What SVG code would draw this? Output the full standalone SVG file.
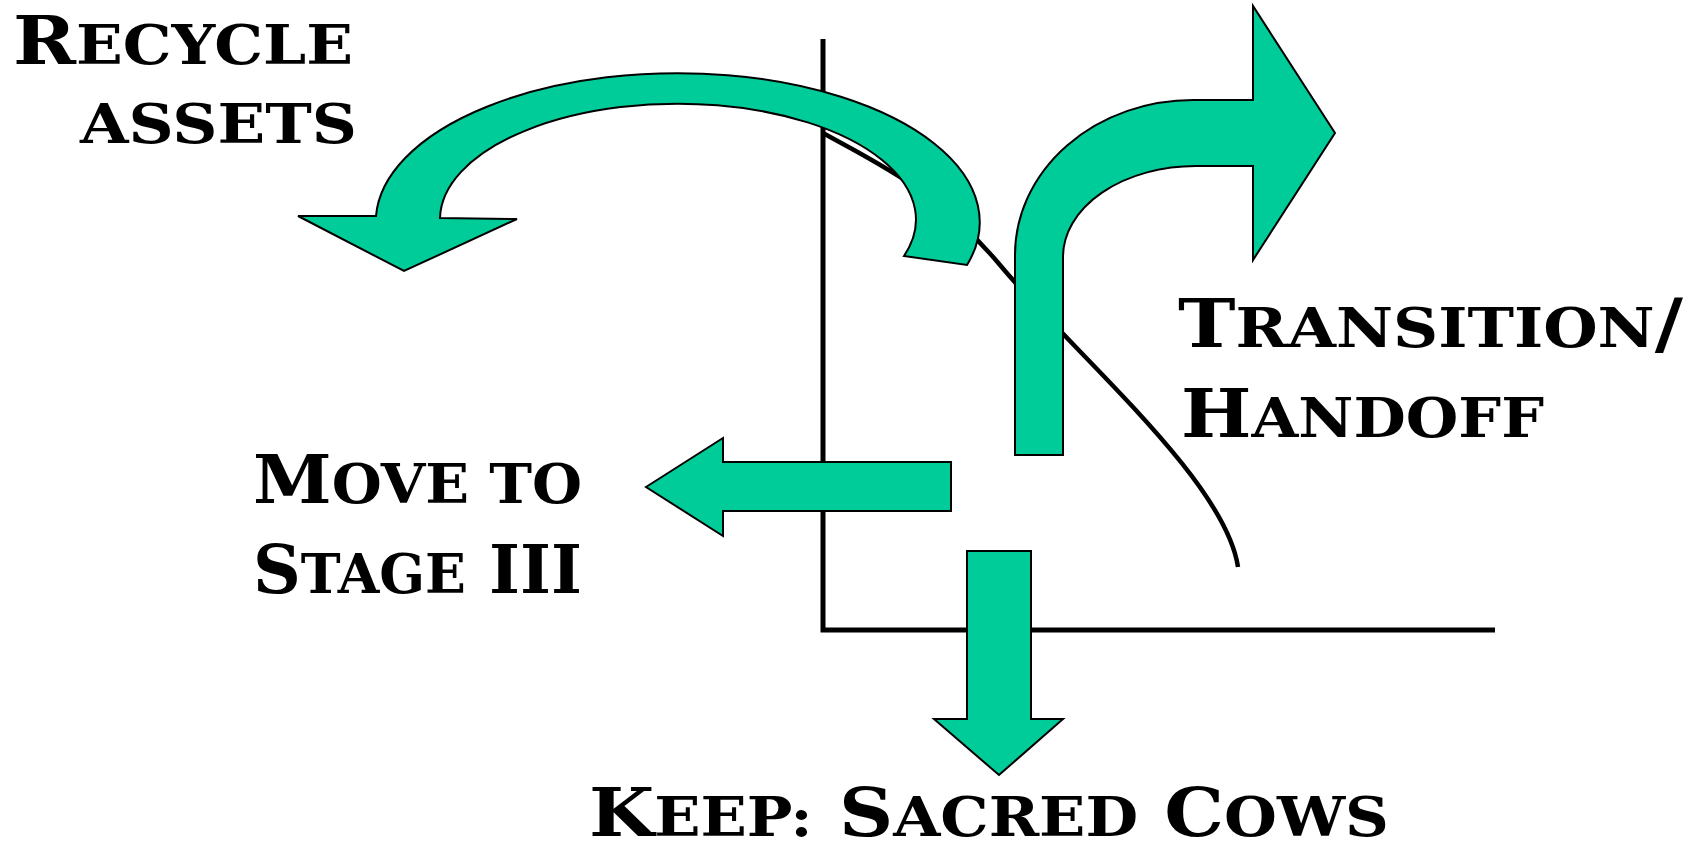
<svg xmlns="http://www.w3.org/2000/svg" width="1697" height="843" viewBox="0 0 1697 843">
<style>
.arrow{fill:#00CC99;stroke:#000;stroke-width:2;stroke-linejoin:miter}
.axis{fill:none;stroke:#000;stroke-width:5}
.curve{fill:none;stroke:#000;stroke-width:4.5}
.lbl{font-family:"DejaVu Serif","Liberation Serif",serif;font-weight:bold;font-size:68px;fill:#000}
.sc{font-size:55px;text-transform:uppercase}
</style>
<rect width="1697" height="843" fill="#fff"/>
<g id="connectors">
  <path class="axis" d="M823,39 L823,630 L1495,630"/>
  <path class="curve" d="M823,133 C880,165 937,190 1000,265 C1075,355 1225,480 1238,567"/>
</g>
<g id="recycle-arrow">
  <path class="arrow" d="M376,216 A302,149 0 1 1 967,265 L904,256 A238,116 0 1 0 440,218 L517,219 L404,271 L298,216 Z"/>
</g>
<g id="transition-arrow">
  <path class="arrow" d="M1015,455 L1015,255 A178,155 0 0 1 1193,100 L1253,100 L1253,6 L1335,133 L1253,260 L1253,166 L1196,166 A133,91 0 0 0 1063,257 L1063,455 Z"/>
</g>
<g id="move-arrow">
  <path class="arrow" d="M646,487 L723,438 L723,462 L951,462 L951,511 L723,511 L723,536 Z"/>
</g>
<g id="keep-arrow">
  <path class="arrow" d="M967,551 L1031,551 L1031,719 L1063,719 L999,775 L934,719 L967,719 Z"/>
</g>
<g id="label-recycle">
  <text class="lbl" x="13" y="64" textLength="340" lengthAdjust="spacingAndGlyphs">R<tspan class="sc">ecycle</tspan></text>
  <text class="lbl" x="80" y="143" textLength="277" lengthAdjust="spacingAndGlyphs"><tspan class="sc">assets</tspan></text>
</g>
<g id="label-transition">
  <text class="lbl" x="1178" y="347" textLength="505" lengthAdjust="spacingAndGlyphs">T<tspan class="sc">ransition</tspan>/</text>
  <text class="lbl" x="1181" y="437" textLength="363" lengthAdjust="spacingAndGlyphs">H<tspan class="sc">andoff</tspan></text>
</g>
<g id="label-move">
  <text class="lbl" x="253" y="503" textLength="329" lengthAdjust="spacingAndGlyphs">M<tspan class="sc">ove to</tspan></text>
  <text class="lbl" x="253" y="593" textLength="329" lengthAdjust="spacingAndGlyphs">S<tspan class="sc">tage</tspan> III</text>
</g>
<g id="label-keep">
  <text class="lbl" x="589" y="836" textLength="800" lengthAdjust="spacingAndGlyphs">K<tspan class="sc">eep:</tspan> S<tspan class="sc">acred</tspan> C<tspan class="sc">ows</tspan></text>
</g>
</svg>
